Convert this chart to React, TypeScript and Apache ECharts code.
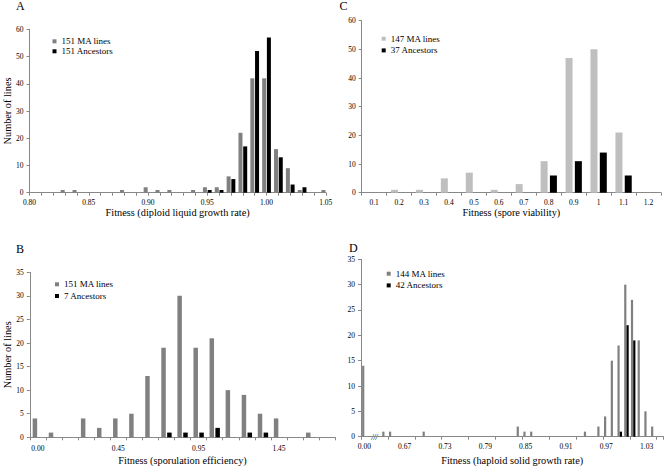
import React, { useEffect, useRef } from "react";
import * as echarts from "echarts";

// Panel A: diploid liquid growth rate
const A_CATS = ["0.80","0.81","0.82","0.83","0.84","0.85","0.86","0.87","0.88","0.89","0.90","0.91","0.92","0.93","0.94","0.95","0.96","0.97","0.98","0.99","1.00","1.01","1.02","1.03","1.04","1.05"];
const A_MA = [0,0,0,1,1,0,0,0,1,0,2,1,1,0,1,2,2,6,22,42,42,16,9,1,0,1];
const A_ANC = [0,0,0,0,0,0,0,0,0,0,0,0,0,0,0,1,1,5,17,52,57,13,3,2,0,0];

// Panel B: sporulation efficiency
const B_CATS = ["0.00","0.05","0.15","0.25","0.35","0.45","0.55","0.65","0.75","0.85","0.95","1.05","1.15","1.25","1.35","1.45","1.55","1.65","1.75"];
const B_MA = [4,1,0,4,2,4,5,13,19,30,19,21,10,9,5,4,0,1,0];
const B_ANC = [0,0,0,0,0,0,0,0,1,1,1,2,0,1,1,0,0,0,0];

// Panel C: spore viability
const C_CATS = ["0.1","0.2","0.3","0.4","0.5","0.6","0.7","0.8","0.9","1","1.1","1.2"];
const C_MA = [0,1,1,5,7,1,3,11,47,50,21,0];
const C_ANC = [0,0,0,0,0,0,0,6,11,14,6,0];

// Panel D: haploid solid growth rate
const D_CATS = ["0.00","0.62","0.63","0.64","0.65","0.66","0.67","0.68","0.69","0.70",
  "0.71","0.72","0.73","0.74","0.75","0.76","0.77","0.78","0.79","0.80",
  "0.81","0.82","0.83","0.84","0.85","0.86","0.87","0.88","0.89","0.90",
  "0.91","0.92","0.93","0.94","0.95","0.96","0.97","0.98","0.99","1.00",
  "1.01","1.02","1.03","1.04","1.05"];
const D_MA = [14,0,0,1,1,0,0,0,0,1, 0,0,0,0,0,0,0,0,0,0, 0,0,0,2,1,1,0,0,0,0, 0,0,0,1,0,2,4,15,18,30, 27,19,5,2,0];
const D_ANC = [0,0,0,0,0,0,0,0,0,0, 0,0,0,0,0,0,0,0,0,0, 0,0,0,0,0,0,0,0,0,0, 0,0,0,0,0,0,0,0,1,22, 19,0,0,0,0];

const Y_MAX = [60, 35, 60, 35];
const Y_STEP = [10, 5, 10, 5];

const FONT = '"Liberation Serif", "Times New Roman", serif';
const AXIS_COLOR = "#888888";
const GRAY = "#808080";
const LIGHT_GRAY = "#bfbfbf";
const BLACK = "#000000";

export default function App() {
  const ref = useRef<HTMLDivElement>(null);

  useEffect(() => {
    if (!ref.current) return;
    const chart = echarts.init(ref.current, null, { renderer: "svg" });

    const grids = [
      { left: 29.5, top: 29.3, width: 296.3, height: 163.4 },
      { left: 29.8, top: 272.3, width: 305.5, height: 165 },
      { left: 361.7, top: 20.7, width: 299.3, height: 172 },
      { left: 361, top: 259.3, width: 302.4, height: 177.4 },
    ];

    const cats = [A_CATS, B_CATS, C_CATS, D_CATS];
    const labelInterval = [4, 4, 0, 5];
    const tickInterval = [0, 0, 0, 3];
    const boundary = [false, true, true, true];
    const xNames = [
      "Fitness (diploid liquid growth rate)",
      "Fitness (sporulation efficiency)",
      "Fitness (spore viability)",
      "Fitness (haploid solid growth rate)",
    ];
    const xNameGap = [15, 18.5, 15, 19];
    const labelMargin = [6, 7, 6, 6];

    const xAxis = cats.map((c, i) => ({
      type: "category",
      gridIndex: i,
      data: c,
      boundaryGap: boundary[i],
      name: xNames[i],
      nameLocation: "middle",
      nameGap: xNameGap[i],
      nameTextStyle: { fontFamily: FONT, fontSize: 10.3, color: "#000" },
      axisLine: { show: true, lineStyle: { color: AXIS_COLOR, width: 1 } },
      axisTick: { show: true, interval: tickInterval[i], length: 3, lineStyle: { color: AXIS_COLOR } },
      axisLabel: { interval: labelInterval[i], fontFamily: FONT, fontSize: 7.5, color: "#000", margin: labelMargin[i] },
      splitLine: { show: false },
    }));

    const yAxis = [0, 1, 2, 3].map((i) => ({
      type: "value",
      gridIndex: i,
      min: 0,
      max: Y_MAX[i],
      interval: Y_STEP[i],
      name: i < 2 ? "Number of lines" : "",
      nameLocation: "middle",
      nameGap: 16,
      nameTextStyle: { fontFamily: FONT, fontSize: 10.3, color: "#000" },
      axisLine: { show: true, lineStyle: { color: AXIS_COLOR, width: 1 } },
      axisTick: { show: true, length: 3, lineStyle: { color: AXIS_COLOR } },
      axisLabel: { fontFamily: FONT, fontSize: 7.5, color: "#000", margin: 6 },
      splitLine: { show: false },
    }));

    const barW = [4, 4.5, 7, 2.2];
    const barGap = ["18%", "30%", "33%", "5%"];
    const maNames = ["151 MA lines", "151 MA lines", "147 MA lines", "144 MA lines"];
    const ancNames = ["151 Ancestors", "7 Ancestors", "37 Ancestors", "42 Ancestors"];
    const maData = [A_MA, B_MA, C_MA, D_MA];
    const ancData = [A_ANC, B_ANC, C_ANC, D_ANC];
    const maColor = [GRAY, GRAY, LIGHT_GRAY, GRAY];

    const series: any[] = [];
    for (let i = 0; i < 4; i++) {
      series.push({
        type: "bar",
        name: maNames[i],
        xAxisIndex: i,
        yAxisIndex: i,
        data: maData[i],
        barWidth: barW[i],
        barGap: barGap[i],
        itemStyle: { color: maColor[i] },
      });
      series.push({
        type: "bar",
        name: ancNames[i],
        xAxisIndex: i,
        yAxisIndex: i,
        data: ancData[i],
        barWidth: barW[i],
        barGap: barGap[i],
        itemStyle: { color: BLACK },
      });
    }

    const legendPos = [
      { left: 52.5, top: 36.3, gap: 0 },
      { left: 55, top: 279.3, gap: 1.7 },
      { left: 381.7, top: 33.7, gap: 1.7 },
      { left: 386.7, top: 268.7, gap: 1.7 },
    ];
    const legend = legendPos.map((p, i) => ({
      orient: "vertical",
      left: p.left,
      top: p.top,
      padding: 0,
      itemGap: p.gap,
      itemWidth: 4,
      itemHeight: 4,
      icon: "rect",
      selectedMode: false,
      data: [
        { name: maNames[i], itemStyle: { color: maColor[i] } },
        { name: ancNames[i], itemStyle: { color: BLACK } },
      ],
      textStyle: { fontFamily: FONT, fontSize: 9, color: "#000", lineHeight: 10 },
    }));

    const letters = [
      { t: "A", x: 16, y: 6 },
      { t: "B", x: 16, y: 248.5 },
      { t: "C", x: 339.5, y: 5.5 },
      { t: "D", x: 349, y: 247.5 },
    ];

    const graphic: any[] = letters.map((l) => ({
      type: "text",
      x: l.x,
      y: l.y,
      style: { text: l.t, fontFamily: FONT, fontSize: 12, fill: "#000", verticalAlign: "middle", align: "left" },
    }));
    graphic.push({
      type: "text",
      x: 374.5,
      y: 437.5,
      style: { text: "///", fontFamily: FONT, fontSize: 8, fontStyle: "italic", fill: "#000", align: "center", verticalAlign: "middle" },
    });

    chart.setOption({
      animation: false,
      backgroundColor: "#ffffff",
      textStyle: { fontFamily: FONT },
      grid: grids,
      xAxis,
      yAxis,
      legend,
      series,
      graphic,
    });

    return () => chart.dispose();
  }, []);

  return (
    <div style={{ position: "absolute", left: 0, top: 0, width: 669, height: 468, background: "#fff" }}>
      <div ref={ref} style={{ width: 669, height: 468 }} />
    </div>
  );
}
